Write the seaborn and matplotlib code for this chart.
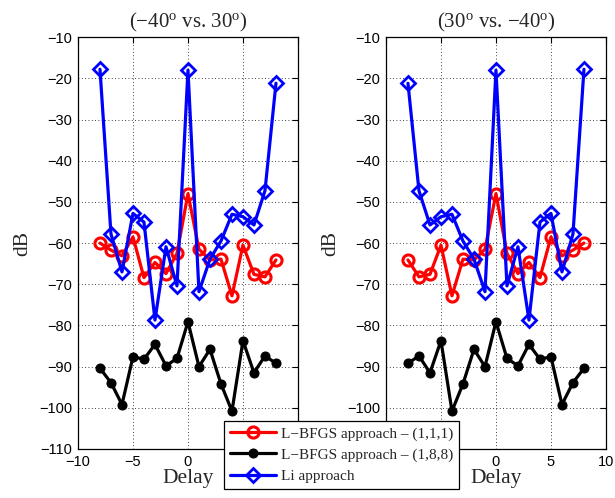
import numpy as np
import pandas as pd
import matplotlib
matplotlib.use("Agg")
import matplotlib.pyplot as plt
import seaborn as sns

# Delay axis and measured cross-correlation levels (dB), scenario (-40 deg vs. 30 deg)
delay = [-8, -7, -6, -5, -4, -3, -2, -1, 0, 1, 2, 3, 4, 5, 6, 7, 8]
lbfgs_111 = [-60.0, -61.7, -63.1, -58.5, -68.4, -64.7, -67.4, -62.5, -48.0,
             -61.5, -64.1, -63.9, -72.8, -60.5, -67.6, -68.2, -64.1]
lbfgs_188 = [-90.4, -93.9, -99.2, -87.6, -88.2, -84.6, -89.8, -88.0, -79.1,
             -90.0, -85.8, -94.2, -100.8, -83.7, -91.5, -87.4, -89.2]
li_approach = [-17.8, -57.8, -67.0, -52.8, -54.9, -78.7, -60.9, -70.4, -18.0,
               -71.8, -63.9, -59.5, -53.0, -53.6, -55.6, -47.3, -21.2]

titles = [r"($-$40$^{\mathrm{o}}$ vs. 30$^{\mathrm{o}}$)",
          r"(30$^{\mathrm{o}}$ vs. $-$40$^{\mathrm{o}}$)"]
series_names = ["L\u2212BFGS approach \u2013 (1,1,1)",
                "L\u2212BFGS approach \u2013 (1,8,8)",
                "Li approach"]
xticks = [-10, -5, 0, 5, 10]
yticks = list(range(-110, 0, 10))

sns.set_style("white")
plt.rcParams["font.family"] = ["Liberation Sans", "DejaVu Sans"]
plt.rcParams["mathtext.fontset"] = "custom"
plt.rcParams["mathtext.rm"] = "Liberation Serif"
plt.rcParams["mathtext.it"] = "Liberation Serif:italic"
serif = ["Liberation Serif", "DejaVu Serif"]

fig = plt.figure(figsize=(6.15, 4.98), dpi=100)
axes = [fig.add_axes([0.1268, 0.0984, 0.3577, 0.827]),
        fig.add_axes([0.6276, 0.0984, 0.3577, 0.827])]


def panel_frame(d, values):
    return pd.DataFrame({"Delay": d, "dB": values})


styles = [
    dict(color="red", marker="o", markersize=8, markerfacecolor="none",
         markeredgecolor="red", markeredgewidth=2.2),
    dict(color="black", marker="o", markersize=6.5, markerfacecolor="black",
         markeredgecolor="black"),
    dict(color="blue", marker="D", markersize=7, markerfacecolor="none",
         markeredgecolor="blue", markeredgewidth=2.0),
]

for k, ax in enumerate(axes):
    # second scenario is the mirror image in delay
    d = delay if k == 0 else [-v for v in delay]
    for name, vals, st in zip(series_names, [lbfgs_111, lbfgs_188, li_approach], styles):
        sns.lineplot(data=panel_frame(d, vals), x="Delay", y="dB", ax=ax,
                     linewidth=2.3, label=name, legend=False, sort=True, **st)
    ax.set_xlim(-10, 10)
    ax.set_ylim(-110, -10)
    ax.set_xticks(xticks)
    ax.set_yticks(yticks)
    ax.grid(True, color="black", linestyle=(0, (1, 3)), linewidth=0.6)
    ax.tick_params(direction="in", top=True, right=True, length=4, width=0.8,
                   labelsize=10.5, colors="black", pad=4)
    for sp in ax.spines.values():
        sp.set_color("black")
        sp.set_linewidth(0.9)
    ax.set_title(titles[k], fontsize=15, family=serif, pad=7)
    ax.set_xlabel("Delay", fontsize=15.5, family=serif, labelpad=0)
    ax.set_ylabel("dB", fontsize=15.5, family=serif, labelpad=5)

handles, labels = axes[0].get_legend_handles_labels()
leg = fig.legend(handles, labels, loc="upper left",
                 bbox_to_anchor=(224 / 615, 1 - 421 / 498),
                 prop={"family": serif, "size": 11}, frameon=True, fancybox=False,
                 framealpha=1, edgecolor="black", borderaxespad=0, handlelength=3.0,
                 handletextpad=0.35, labelspacing=0.48, borderpad=0.38)
leg.get_frame().set_linewidth(0.9)

fig.savefig("out.png", dpi=100)
